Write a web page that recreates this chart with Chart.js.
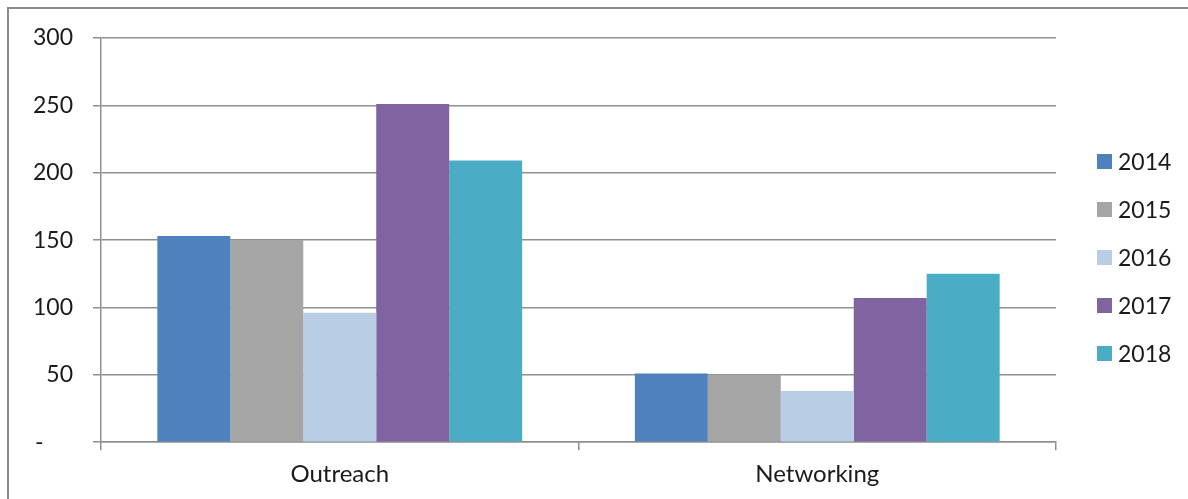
<!DOCTYPE html>
<html>
<head>
<meta charset="utf-8">
<script src="https://cdn.jsdelivr.net/npm/chart.js@4/dist/chart.umd.min.js"></script>
<style>
  html, body { margin: 0; padding: 0; background: #fff; overflow: hidden; }
  #wrap { position: relative; width: 1188px; height: 499px; }
  #frame {
    position: absolute; left: 7px; top: 7px; width: 1300px; height: 600px;
    border-left: 2px solid #8a8a8a; border-top: 2px solid #8a8a8a;
  }
  #chart { position: absolute; left: 0; top: 0; }
  #legend {
    position: absolute; left: 1097px; top: 137px; margin: 0; padding: 0;
    list-style: none; font-family: Lato, sans-serif; font-size: 23px; color: #1a1a1a;
  }
  #legend li { height: 48px; display: flex; align-items: center; }
  #legend .box { display: inline-block; width: 15px; height: 15px; margin-right: 6px; }
</style>
</head>
<body>
<div id="wrap">
  <div id="frame"></div>
  <canvas id="chart" width="1188" height="499"></canvas>
  <ul id="legend"></ul>
</div>
<script>
  var categories = ['Outreach', 'Networking'];
  var years = ['2014', '2015', '2016', '2017', '2018'];
  var colors = ['#4f81bd', '#a5a5a5', '#b9cde5', '#8064a2', '#4bacc6'];

  // one array per year: [Outreach, Networking]
  var v2014 = [153, 51];
  var v2015 = [150, 50];
  var v2016 = [96, 38];
  var v2017 = [251, 107];
  var v2018 = [209, 125];

  var yTicks = [0, 50, 100, 150, 200, 250, 300];

  var series = [v2014, v2015, v2016, v2017, v2018];
  var GRID = '#8f8f8f';
  var TEXT = '#1a1a1a';

  var datasets = series.map(function (vals, i) {
    return {
      label: years[i],
      data: vals,
      backgroundColor: colors[i],
      borderWidth: 0,
      categoryPercentage: 0.764,
      barPercentage: 1
    };
  });

  new Chart(document.getElementById('chart').getContext('2d'), {
    type: 'bar',
    data: { labels: categories, datasets: datasets },
    options: {
      responsive: false,
      animation: false,
      layout: { padding: { top: 38, right: 132, bottom: 0, left: 0 } },
      plugins: { legend: { display: false }, tooltip: { enabled: false } },
      scales: {
        x: {
          grid: {
            offset: true, drawOnChartArea: false, drawTicks: true,
            tickLength: 8, color: GRID, lineWidth: 1.5
          },
          border: { color: GRID, width: 1.5 },
          ticks: { color: TEXT, padding: 10, font: { family: 'Lato', size: 24 } }
        },
        y: {
          min: 0,
          max: 300,
          afterFit: function (scale) { scale.width = 101; },
          afterBuildTicks: function (scale) {
            scale.ticks = yTicks.map(function (v) { return { value: v }; });
          },
          grid: { color: GRID, lineWidth: 1.5, tickLength: 8 },
          border: { color: GRID, width: 1.5 },
          ticks: {
            color: TEXT,
            padding: 20,
            font: { family: 'Lato', size: 23 },
            callback: function (v) { return v === 0 ? '-     ' : String(v); }
          }
        }
      }
    }
  });

  // legend as a plain list next to the canvas
  var list = document.getElementById('legend');
  years.forEach(function (y, i) {
    var li = document.createElement('li');
    li.innerHTML = '<span class="box" style="background:' + colors[i] + '"></span>' + y;
    list.appendChild(li);
  });
</script>
</body>
</html>
